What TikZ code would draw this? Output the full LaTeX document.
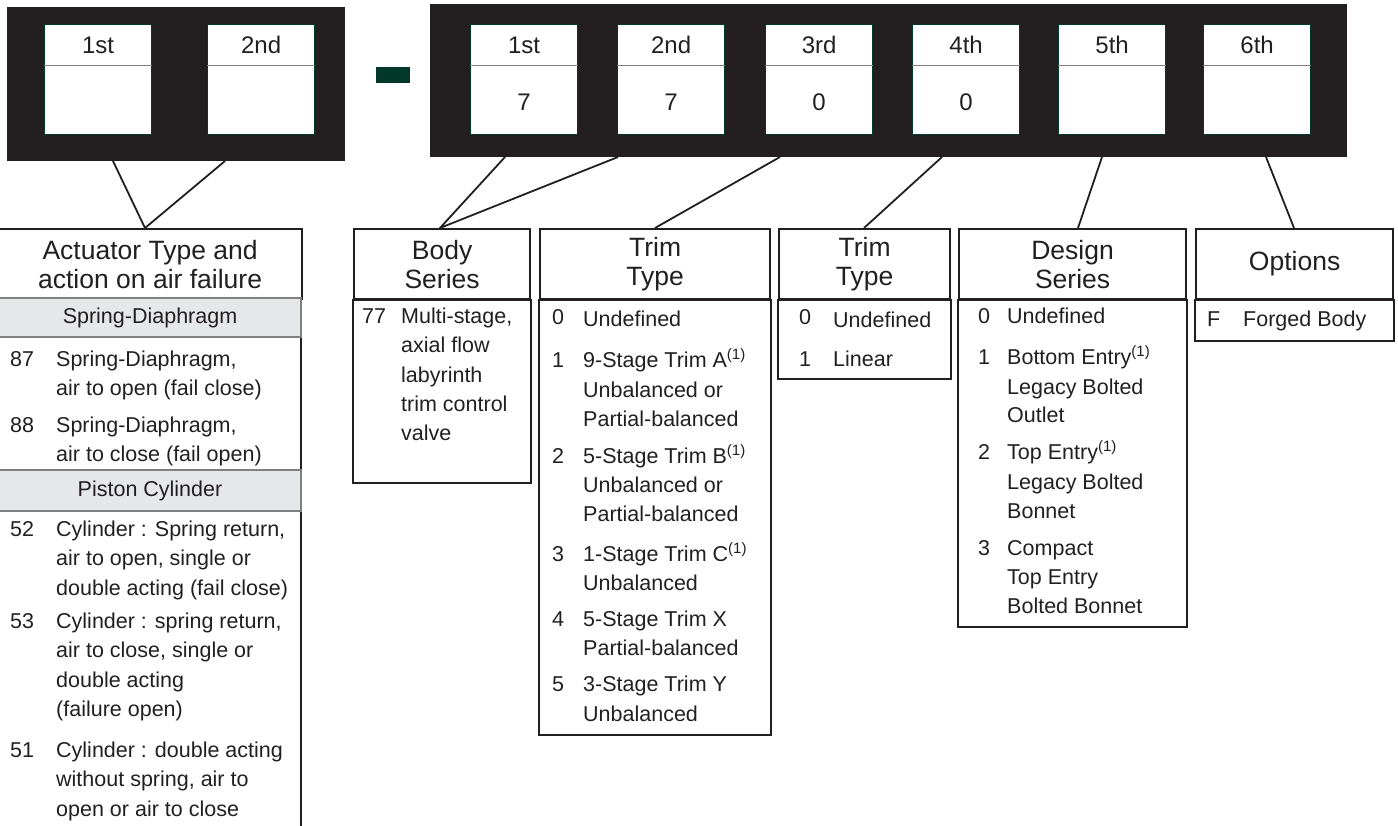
\documentclass[tikz,border=0pt]{standalone}
\usepackage{fontspec}
\setmainfont{Liberation Sans}
\usepackage{xcolor}
\usepackage{tikz}

\definecolor{panelblack}{HTML}{231F20}
\definecolor{boxgreen}{HTML}{00382A}
\definecolor{rowgray}{HTML}{E6E7E8}

\begin{document}
\begin{tikzpicture}[x=1pt, y=-1pt,
    digitbox/.style={draw=boxgreen, line width=1.2pt, fill=white, minimum width=107pt, minimum height=110pt, inner sep=0, anchor=north west},
    digitlbl/.style={inner sep=0, font=\fontsize{24}{24}\selectfont, text=panelblack},
    hdr/.style={draw=panelblack, line width=2.2pt, fill=white, align=center, inner sep=0, anchor=north west, minimum height=70pt, font=\fontsize{26.5}{29}\selectfont, text=panelblack},
    tbl/.style={draw=panelblack, line width=2.2pt},
    item/.style={anchor=base west, inner sep=0, font=\fontsize{21.5}{21.5}\selectfont, text=panelblack},
    rowlbl/.style={inner sep=0, font=\fontsize{21.5}{21.5}\selectfont, text=panelblack},
    grayrow/.style={fill=rowgray, draw=gray, line width=1.5pt},
    link/.style={draw=panelblack, line width=1.8pt}]
            \useasboundingbox (0,0) rectangle (1398,825);

            % code panels
            \fill[panelblack] (7,7) rectangle (345,161);
            \fill[panelblack] (430,4) rectangle (1347,157);
            \fill[boxgreen] (376,67) rectangle (410,83);

            \foreach \x/\n/\lbl/\val in {44/a1/1st/{}, 207/a2/2nd/{}, 470/b1/1st/7, 617/b2/2nd/7, 765/b3/3rd/0, 912/b4/4th/0, 1058/b5/5th/{}, 1203/b6/6th/{}}{
                \node[digitbox] (\n) at (\x,24) {};
                \draw[gray, line width=1pt] ([yshift=-41pt]\n.north west) -- ([yshift=-41pt]\n.north east);
                \node[digitlbl] (\n-l) at ([yshift=-21pt]\n.north) {\lbl};
                \node[digitlbl] (\n-v) at ([yshift=-78pt]\n.north) {\val};
            }

            % actuator type
            \node[hdr, minimum width=304pt] (act) at (-3,228) {Actuator Type and\\action on air failure};
            \draw[tbl] (301,298) -- (301,830);
            \draw[grayrow] (-3,298) rectangle (301,337);
            \draw[grayrow] (-3,470) rectangle (301,511);
            \node[rowlbl] (act-r1) at (150,317.5) {Spring-Diaphragm};
            \node[rowlbl] (act-r2) at (150,490.5) {Piston Cylinder};
            \foreach \y/\num [count=\i] in {366/87, 432/88, 536/52, 628/53, 757/51}{
                \node[item] (act-n\i) at (10,\y) {\num};
            }
            \foreach \y/\txt [count=\i] in {366/{Spring-Diaphragm,}, 395/{air to open (fail close)},
                432/{Spring-Diaphragm,}, 461/{air to close (fail open)},
                536/{Cylinder : Spring return,}, 565.5/{air to open, single or}, 595/{double acting (fail close)},
                628/{Cylinder : spring return,}, 657.5/{air to close, single or}, 687/{double acting}, 716.5/{(failure open)},
                757/{Cylinder : double acting}, 786.5/{without spring, air to}, 816/{open or air to close}}{
                \node[item] (act-t\i) at (56,\y) {\txt};
            }

            % body series
            \node[hdr, minimum width=176pt] (body) at (353,228) {Body\\Series};
            \draw[tbl] (body.south west) rectangle ([yshift=-183pt]body.south east);
            \node[item] (body-n1) at (362,323) {77};
            \foreach \y/\txt [count=\i] in {323/{Multi-stage,}, 352.5/axial flow, 382/labyrinth, 411/trim control, 440/valve}{
                \node[item] (body-t\i) at (401,\y) {\txt};
            }

            % trim type
            \node[hdr, minimum width=230pt] (trim) at (539,228) {Trim\\Type};
            \draw[tbl] (trim.south west) rectangle ([yshift=-435pt]trim.south east);
            \foreach \y/\num [count=\i] in {324/0, 367/1, 463/2, 561/3, 626/4, 691/5}{
                \node[item] (trim-n\i) at (552,\y) {\num};
            }
            \foreach \y/\txt [count=\i] in {326/Undefined, 367/{9-Stage Trim A\textsuperscript{(1)}}, 397/Unbalanced or, 426/Partial-balanced,
                463/{5-Stage Trim B\textsuperscript{(1)}}, 492/Unbalanced or, 521/Partial-balanced,
                561/{1-Stage Trim C\textsuperscript{(1)}}, 590/Unbalanced,
                626/5-Stage Trim X, 655/Partial-balanced,
                691/3-Stage Trim Y, 721/Unbalanced}{
                \node[item] (trim-t\i) at (583,\y) {\txt};
            }

            % trim characteristic
            \node[hdr, minimum width=171pt] (char) at (778,228) {Trim\\Type};
            \draw[tbl] (char.south west) rectangle ([yshift=-79pt]char.south east);
            \node[item] (char-n1) at (799,324) {0};
            \node[item] (char-t1) at (833,327) {Undefined};
            \node[item] (char-n2) at (799,366) {1};
            \node[item] (char-t2) at (833,366) {Linear};

            % design series
            \node[hdr, minimum width=227pt] (design) at (958,228) {Design\\Series};
            \draw[tbl] (design.south west) rectangle ([yshift=-327pt]design.south east);
            \foreach \y/\num [count=\i] in {323/0, 364/1, 459/2, 555/3}{
                \node[item] (design-n\i) at (978,\y) {\num};
            }
            \foreach \y/\txt [count=\i] in {323/Undefined, 364/{Bottom Entry\textsuperscript{(1)}}, 394/Legacy Bolted, 422/Outlet,
                459/{Top Entry\textsuperscript{(1)}}, 489/Legacy Bolted, 518/Bonnet,
                555/Compact, 584/Top Entry, 613/Bolted Bonnet}{
                \node[item] (design-t\i) at (1007,\y) {\txt};
            }

            % options
            \node[hdr, minimum width=197pt] (opt) at (1195,228) {Options};
            \draw[tbl] (opt.south west) rectangle ([yshift=-41pt]opt.south east);
            \node[item] (opt-n1) at (1207,326) {F};
            \node[item] (opt-t1) at (1243,326) {Forged Body};

            % connectors
            \coordinate (p1) at (113,161);
            \coordinate (p2) at (225,161);
            \coordinate (p3) at (505,157);
            \coordinate (p4) at (618,157);
            \coordinate (p5) at (780,157);
            \coordinate (p6) at (942,157);
            \coordinate (p7) at (1102,157);
            \coordinate (p8) at (1266,157);
            \coordinate (act-top) at (145,228);
            \coordinate (body-top) at (440,228);
            \coordinate (trim-top) at (655,228);
            \coordinate (char-top) at (864,228);
            \coordinate (design-top) at (1078,228);
            \coordinate (opt-top) at (1294,228);
            \draw[link] (p1) -- (act-top) -- (p2);
            \draw[link] (p3) -- (body-top) -- (p4);
            \draw[link] (p5) -- (trim-top);
            \draw[link] (p6) -- (char-top);
            \draw[link] (p7) -- (design-top);
            \draw[link] (p8) -- (opt-top);
        \end{tikzpicture}
\end{document}
